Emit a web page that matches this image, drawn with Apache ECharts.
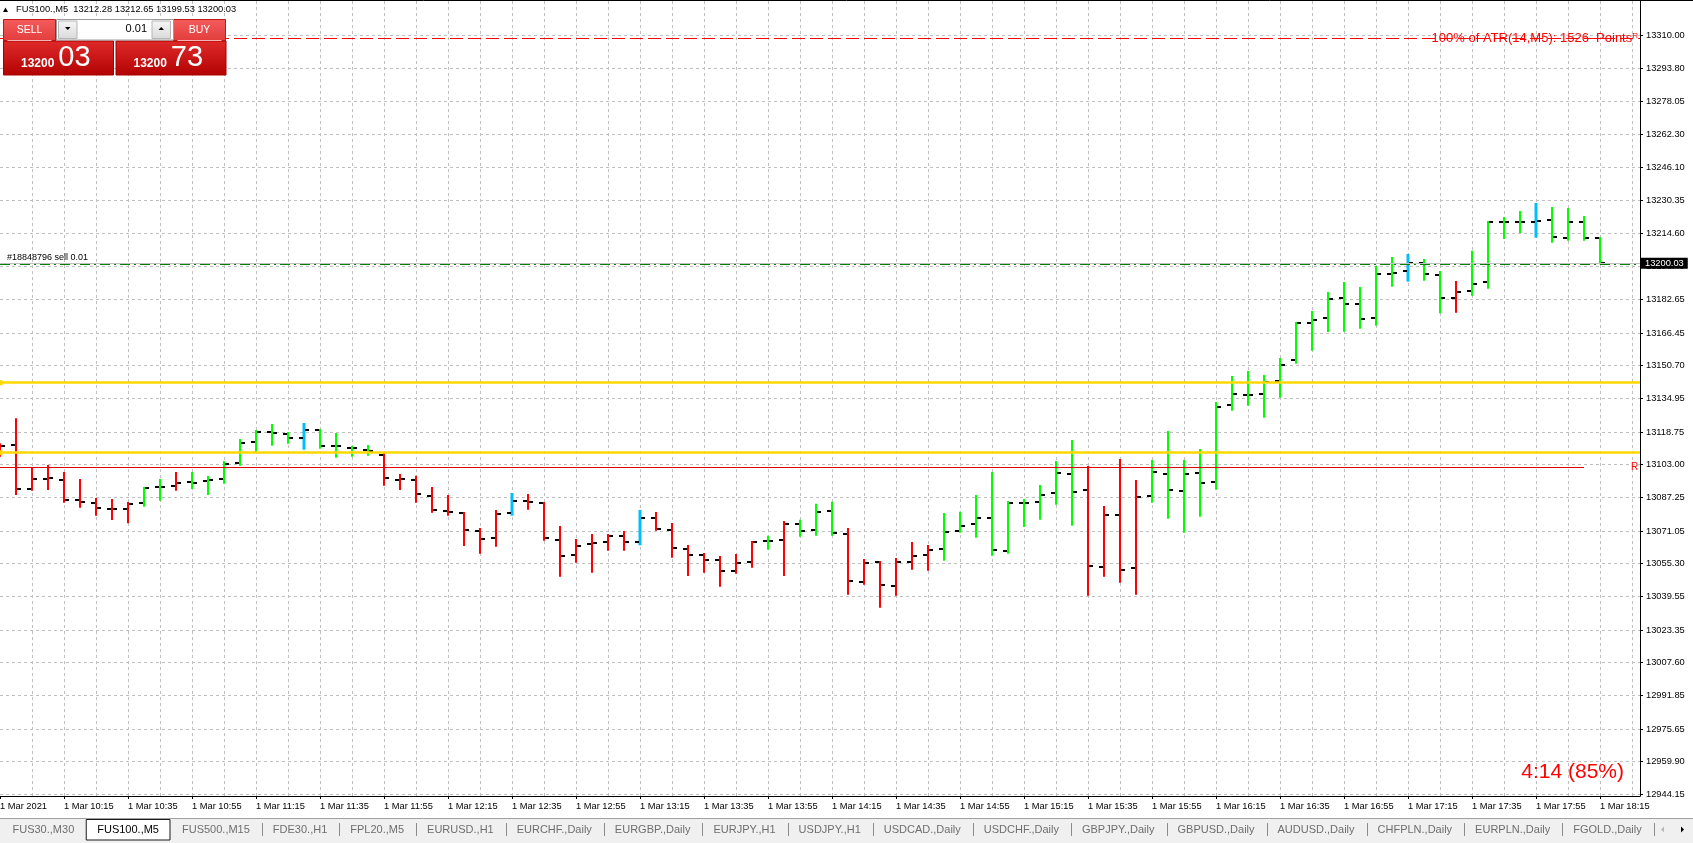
<!DOCTYPE html>
<html><head><meta charset="utf-8">
<script src="https://cdn.jsdelivr.net/npm/echarts@6/dist/echarts.min.js"></script>
<style>html,body{margin:0;padding:0;background:#fff;overflow:hidden}#c{width:1693px;height:843px}</style>
</head><body><div id="c"></div>
<script>
const symbolName = 'FUS100.,M5';
const times = ['09:55','10:00','10:05','10:10','10:15','10:20','10:25','10:30','10:35','10:40','10:45','10:50','10:55',
'11:00','11:05','11:10','11:15','11:20','11:25','11:30','11:35','11:40','11:45','11:50','11:55',
'12:00','12:05','12:10','12:15','12:20','12:25','12:30','12:35','12:40','12:45','12:50','12:55',
'13:00','13:05','13:10','13:15','13:20','13:25','13:30','13:35','13:40','13:45','13:50','13:55',
'14:00','14:05','14:10','14:15','14:20','14:25','14:30','14:35','14:40','14:45','14:50','14:55',
'15:00','15:05','15:10','15:15','15:20','15:25','15:30','15:35','15:40','15:45','15:50','15:55',
'16:00','16:05','16:10','16:15','16:20','16:25','16:30','16:35','16:40','16:45','16:50','16:55',
'17:00','17:05','17:10','17:15','17:20','17:25','17:30','17:35','17:40','17:45','17:50','17:55',
'18:00','18:05','18:10','18:15'];
const openP = [13112.94,13112.60,13091.26,13096.08,13095.59,13086.10,13084.66,13081.77,13081.77,13084.66,
13092.22,13092.70,13094.78,13095.26,13096.22,13103.93,13114.05,13118.87,13117.90,13115.97,
13119.83,13112.12,13111.16,13110.19,13107.78,13095.74,13095.74,13088.03,13080.80,13079.84,
13071.17,13067.79,13079.84,13085.62,13084.66,13066.83,13059.60,13064.90,13065.87,13068.76,
13065.87,13077.43,13071.65,13062.49,13059.60,13057.19,13051.89,13056.23,13066.35,13066.83,
13074.54,13071.50,13080.80,13069.58,13046.45,13056.09,13044.52,13056.09,13059.46,13062.35,
13071.02,13074.39,13077.29,13061.39,13084.51,13084.99,13089.33,13098.49,13090.78,13053.68,
13078.73,13053.20,13087.89,13098.49,13090.29,13098.97,13094.78,13131.87,13136.69,13137.17,
13143.29,13153.56,13171.38,13173.79,13183.43,13180.54,13173.79,13194.99,13196.44,13200.29,
13194.37,13183.43,13186.66,13190.99,13220.05,13220.05,13220.05,13220.87,13212.34,13220.05,13212.28];
const highP = [13113.28,13125.32,13101.52,13102.82,13099.45,13096.08,13086.92,13086.44,13084.99,13092.22,
13096.08,13099.45,13099.45,13097.52,13104.75,13115.35,13119.69,13122.58,13118.72,13123.06,
13120.17,13118.24,13112.12,13112.46,13108.75,13098.49,13097.67,13092.22,13088.37,13080.18,
13072.47,13081.14,13089.33,13088.85,13084.99,13073.43,13067.17,13069.58,13069.58,13071.02,
13081.14,13080.18,13074.88,13064.28,13060.42,13058.98,13059.94,13066.20,13068.76,13075.84,
13076.47,13084.18,13085.14,13072.47,13057.53,13056.57,13058.01,13065.72,13064.28,13079.69,
13080.32,13088.37,13099.45,13085.48,13086.44,13093.19,13104.75,13114.87,13102.34,13083.07,
13105.71,13095.59,13105.23,13119.20,13105.23,13110.53,13133.18,13145.70,13148.11,13146.18,
13154.38,13171.72,13177.02,13186.17,13190.99,13188.58,13198.70,13203.04,13204.48,13202.07,
13196.29,13191.47,13206.07,13220.38,13222.31,13225.20,13229.06,13227.13,13226.65,13222.79,13212.65];
const lowP = [13106.82,13088.37,13090.44,13090.78,13084.66,13082.25,13078.40,13076.32,13074.73,13082.73,
13085.62,13090.44,13091.26,13088.37,13093.81,13102.48,13108.75,13112.12,13113.08,13110.19,
13110.68,13106.34,13106.82,13107.30,13092.85,13090.78,13084.66,13079.84,13078.40,13063.80,
13060.09,13063.46,13078.40,13081.28,13066.35,13049.00,13055.75,13050.93,13061.53,13061.53,
13064.13,13071.17,13058.16,13049.34,13050.93,13044.19,13050.45,13053.34,13062.01,13049.34,
13068.28,13068.76,13068.76,13040.33,13045.15,13034.07,13039.85,13052.38,13051.89,13056.71,
13070.20,13067.79,13059.12,13060.09,13072.95,13076.47,13083.69,13073.58,13039.85,13049.00,
13046.11,13040.33,13084.66,13076.95,13070.20,13077.91,13090.92,13128.98,13131.39,13125.61,
13135.25,13151.63,13157.89,13166.90,13167.05,13168.49,13169.94,13188.73,13191.14,13191.62,
13175.91,13176.20,13184.39,13187.76,13211.71,13214.60,13212.34,13209.93,13210.89,13210.89,13199.53];
const closeP = [13112.12,13091.26,13096.08,13096.70,13086.10,13084.99,13082.25,13081.77,13084.18,13091.88,
13092.37,13094.29,13094.29,13095.74,13103.45,13113.57,13118.87,13118.38,13115.97,13119.83,
13112.12,13112.12,13111.16,13109.42,13096.70,13096.08,13088.99,13081.28,13080.32,13071.65,
13067.31,13079.36,13085.62,13085.14,13067.79,13059.12,13063.94,13065.39,13068.76,13065.87,
13077.43,13072.13,13062.97,13059.46,13057.19,13051.89,13055.75,13065.87,13066.35,13074.54,
13071.02,13080.32,13070.06,13046.93,13055.60,13045.00,13056.09,13058.98,13061.87,13070.54,
13073.43,13077.29,13061.87,13084.51,13084.51,13088.37,13098.97,13089.81,13054.16,13078.73,
13052.23,13087.40,13099.45,13090.78,13098.49,13094.15,13130.91,13137.03,13136.69,13142.81,
13151.00,13171.38,13172.83,13182.95,13180.54,13173.31,13194.99,13195.47,13199.91,13194.99,
13183.43,13186.32,13190.03,13220.05,13220.05,13220.05,13220.53,13212.82,13219.90,13212.34,13200.03];
// trend state of each bar: u = up, d = down, n = neutral
const barState = ['d','d','d','d','d','d','d','d','d','u','u','d','u','u','u','u','u','u','u','n',
'u','u','u','u','d','d','d','d','d','d','d','d','n','d','d','d','d','d','d','d',
'n','d','d','d','d','d','d','d','u','d','u','u','u','d','d','d','d','d','d','u',
'u','u','u','u','u','u','u','u','d','d','d','d','u','u','u','u','u','u','u','u',
'u','u','u','u','u','u','u','u','n','u','u','d','u','u','u','u','n','u','u','u','u'];
const xTickLabels = ['1 Mar 2021','1 Mar 10:15','1 Mar 10:35','1 Mar 10:55','1 Mar 11:15','1 Mar 11:35','1 Mar 11:55',
'1 Mar 12:15','1 Mar 12:35','1 Mar 12:55','1 Mar 13:15','1 Mar 13:35','1 Mar 13:55','1 Mar 14:15','1 Mar 14:35',
'1 Mar 14:55','1 Mar 15:15','1 Mar 15:35','1 Mar 15:55','1 Mar 16:15','1 Mar 16:35','1 Mar 16:55','1 Mar 17:15',
'1 Mar 17:35','1 Mar 17:55','1 Mar 18:15'];
const yTickLabels = ['13310.00','13293.80','13278.05','13262.30','13246.10','13230.35','13214.60','13198.40',
'13182.65','13166.45','13150.70','13134.95','13118.75','13103.00','13087.25','13071.05','13055.30','13039.55',
'13023.35','13007.60','12991.85','12975.65','12959.90','12944.15'];
const bidPrice = 13200.03;
const askPrice = 13200.73;
const lotSize = '0.01';
const orderPrice = 13199.55;
const orderText = '#18848796 sell 0.01';
const atrLevel = 13308.41;
const atrText = '100% of ATR(14,M5): 1526  Points';
const yellowLevels = [13142.48, 13108.75];
const redLevel = 13101.71;
const redLineEndBar = 99;
const timerText = '4:14 (85%)';
const tabs = ['FUS30.,M30','FUS100.,M5','FUS500.,M15','FDE30.,H1','FPL20.,M5','EURUSD.,H1','EURCHF.,Daily',
'EURGBP.,Daily','EURJPY.,H1','USDJPY.,H1','USDCAD.,Daily','USDCHF.,Daily','GBPJPY.,Daily','GBPUSD.,Daily',
'AUDUSD.,Daily','CHFPLN.,Daily','EURPLN.,Daily','FGOLD.,Daily'];
const activeTab = 1;

// ---------- rendering ----------
const FONT = '"Liberation Sans", Arial, sans-serif';
const colorOf = {u:'#00ff00', d:'#ff0000', n:'#00bfff'};
const xTickPos = xTickLabels.map((l, k) => k === 0 ? 0 : times.indexOf(l.slice(6)));
const yTickVals = yTickLabels.map(Number);
const last = times.length - 1;
const barData = times.map((t, i) => [i, openP[i], highP[i], lowP[i], closeP[i]]);

const chart = echarts.init(document.getElementById('c'), null, {width:1693, height:843});

const gridDash = {color:'#c0c0c0', type:[3,3], width:1};

const graphics = [];
graphics.push({type:'line', shape:{x1:0,y1:0.5,x2:1693,y2:0.5}, style:{stroke:'#000', lineWidth:1}, z:100});
graphics.push({type:'polygon', shape:{points:[[3,12],[8,12],[5.5,7.5]]}, style:{fill:'#000'}, z:100});
graphics.push({type:'text', x:16, y:9.5, style:{text: symbolName + '  ' + [openP[last],highP[last],lowP[last],closeP[last]].map(v=>v.toFixed(2)).join(' '),
  font:'9.3px ' + FONT, fill:'#000', verticalAlign:'middle'}, z:100});
const btnGrad = {type:'linear', x:0,y:0,x2:0,y2:1, colorStops:[{offset:0,color:'#f45c5c'},{offset:1,color:'#e23c3c'}]};
const boxGrad = {type:'linear', x:0,y:0,x2:0,y2:1, colorStops:[{offset:0,color:'#e02a2a'},{offset:1,color:'#b20202'}]};
const greyGrad = {type:'linear', x:0,y:0,x2:0,y2:1, colorStops:[{offset:0,color:'#f6f6f6'},{offset:1,color:'#dadada'}]};
function priceParts(p){ return p.toFixed(2).split('.'); }
[[3.5,'SELL',bidPrice],[173.5,'BUY',askPrice]].forEach(([bx,label,price], k) => {
  graphics.push({type:'rect', shape:{x:bx, y:19.5, width:52, height:21.5}, style:{fill:btnGrad, stroke:'#c01818', lineWidth:1}, z:100});
  graphics.push({type:'text', x:bx+26, y:30.3, style:{text:label, font:'10.5px ' + FONT, fill:'#fff', align:'center', verticalAlign:'middle'}, z:101});
  graphics.push({type:'line', shape:{x1:bx+4,y1:40.5,x2:bx+48,y2:40.5}, style:{stroke:'#f7b4b4', lineWidth:1}, z:101});
  const px = k === 0 ? 3.5 : 116;
  graphics.push({type:'rect', shape:{x:px, y:41, width:110, height:34}, style:{fill:boxGrad, stroke:'#a80000', lineWidth:1}, z:100});
  const parts = priceParts(price);
  graphics.push({type:'text', x:px + 17.5, y:64, style:{text:parts[0], font:'bold 12px ' + FONT, fill:'#fff', verticalAlign:'middle'}, z:101});
  graphics.push({type:'text', x:px + 54.8, y:57.5, style:{text:parts[1], font:'29px ' + FONT, fill:'#fff', verticalAlign:'middle'}, z:101});
});
graphics.push({type:'rect', shape:{x:56.5, y:19.5, width:117, height:20.5}, style:{fill:'#fff', stroke:'#9a9a9a', lineWidth:1}, z:100});
graphics.push({type:'rect', shape:{x:58.5, y:21, width:18.5, height:17.5}, style:{fill:greyGrad, stroke:'#b4b4b4', lineWidth:1}, z:101});
graphics.push({type:'rect', shape:{x:152, y:21, width:18.5, height:17.5}, style:{fill:greyGrad, stroke:'#b4b4b4', lineWidth:1}, z:101});
graphics.push({type:'polygon', shape:{points:[[65,27],[70.5,27],[67.75,30]]}, style:{fill:'#000'}, z:102});
graphics.push({type:'polygon', shape:{points:[[158.5,30],[164,30],[161.25,27]]}, style:{fill:'#000'}, z:102});
graphics.push({type:'text', x:147, y:29, style:{text:lotSize, font:'11px ' + FONT, fill:'#000', align:'right', verticalAlign:'middle'}, z:101});
graphics.push({type:'text', x:1624, y:772, style:{text:timerText, font:'21px ' + FONT, fill:'#ff0000', align:'right', verticalAlign:'middle'}, z:100});
graphics.push({type:'rect', shape:{x:0, y:818, width:1693, height:25}, style:{fill:'#f0f0f0'}, z:90});
graphics.push({type:'line', shape:{x1:0,y1:818.5,x2:1693,y2:818.5}, style:{stroke:'#a0a0a0', lineWidth:1}, z:91});
const mctx = document.createElement('canvas').getContext('2d');
mctx.font = '11px "Liberation Sans"';
let tx = 12.5;
tabs.forEach((name, i) => {
  const w = mctx.measureText(name).width;
  if (i === activeTab) {
    graphics.push({type:'rect', shape:{x:tx-11, y:819.5, width:w+22, height:20.5}, style:{fill:'#fff', stroke:'#1a1a1a', lineWidth:1}, z:92});
  }
  graphics.push({type:'text', x:tx, y:830, style:{text:name, font:'11px ' + FONT, fill: i === activeTab ? '#000' : '#6e6e6e', verticalAlign:'middle'}, z:93});
  const sepX = tx + w + 12;
  if (i !== activeTab && i + 1 !== activeTab) {
    graphics.push({type:'line', shape:{x1:Math.round(sepX)+0.5, y1:823, x2:Math.round(sepX)+0.5, y2:836}, style:{stroke:'#8c8c8c', lineWidth:1}, z:93});
  }
  tx = tx + w + 23;
});
graphics.push({type:'polygon', shape:{points:[[1664,826.5],[1664,832.5],[1661,829.5]]}, style:{fill:'#b8b8b8'}, z:93});
graphics.push({type:'polygon', shape:{points:[[1681,826.5],[1681,832.5],[1684,829.5]]}, style:{fill:'#000'}, z:93});

const markData = [
  {yAxis: atrLevel, lineStyle:{color:'#ff0000', type:[13,5], width:1},
   label:{show:true, position:'insideEndTop', distance:[2,0], verticalAlign:'middle',
     formatter:'{a|' + atrText + '}{b|R}',
     rich:{a:{fontSize:13, color:'#ff0000', fontFamily:FONT}, b:{fontSize:8, color:'#ff0000', fontFamily:FONT, verticalAlign:'top'}}}},
  ...yellowLevels.map(v => ({yAxis: v, lineStyle:{color:'#ffd700', type:'solid', width:2.5}, symbol:['emptyRect','emptyRect'], symbolSize:5})),
  [{coord:[0, redLevel], lineStyle:{color:'#e00000', type:'solid', width:1},
    label:{show:true, position:'end', distance:47, formatter:'R', color:'#ff0000', fontSize:10, fontFamily:FONT}},
   {coord:[redLineEndBar, redLevel]}],
  {yAxis: bidPrice, lineStyle:{color:'#c0c0c0', type:'solid', width:1},
   label:{show:true, position:'end', distance:1, formatter: bidPrice.toFixed(2), color:'#fff', backgroundColor:'#000',
     padding:[1,4,1,4], fontSize:9.3, fontFamily:FONT}},
  {yAxis: orderPrice, lineStyle:{color:'#008000', type:[10,4,2,4], width:1},
   label:{show:true, position:'insideStartTop', distance:[7,2], formatter: orderText, color:'#000', fontSize:9, fontFamily:FONT}}
];

chart.setOption({
  animation:false,
  backgroundColor:'#fff',
  textStyle:{fontFamily:FONT},
  grid:{left:0, right:53, top:1, bottom:47, containLabel:false, outerBoundsMode:'none'},
  xAxis:[
    {type:'value', min:0, max:102.5, position:'bottom',
     axisLine:{show:true, onZero:false, lineStyle:{color:'#000', width:1}},
     axisTick:{show:true, length:3, customValues:xTickPos, lineStyle:{color:'#000'}},
     axisLabel:{show:true, customValues:xTickPos, align:'left', margin:6, fontSize:9.3, color:'#000', fontFamily:FONT,
       formatter:(v) => { const k = xTickPos.indexOf(Math.round(v)); return k >= 0 ? xTickLabels[k] : ''; }},
     splitLine:{show:false}},
    {type:'value', min:0, max:102.5, interval:2, position:'bottom',
     axisLine:{show:false}, axisTick:{show:false}, axisLabel:{show:false},
     splitLine:{show:true, showMinLine:false, showMaxLine:false, lineStyle:gridDash}}
  ],
  yAxis:[
    {type:'value', position:'right', min:12943.34, max:13326.38,
     axisLine:{show:true, onZero:false, lineStyle:{color:'#000', width:1}},
     axisTick:{show:true, length:3, customValues:yTickVals, lineStyle:{color:'#000'}},
     axisLabel:{show:true, customValues:yTickVals, margin:6, fontSize:9.3, color:'#000', fontFamily:FONT,
       formatter:(v) => v.toFixed(2)},
     splitLine:{show:true, lineStyle:gridDash}}
  ],
  series:[{
    type:'custom', xAxisIndex:0, yAxisIndex:0, clip:false,
    encode:{x:0, y:[1,2,3,4]},
    data: barData,
    renderItem:(params, api) => {
      const i = api.value(0);
      const hi = api.coord([i, api.value(2)]);
      const lo = api.coord([i, api.value(3)]);
      const op = api.coord([i, api.value(1)]);
      const cl = api.coord([i, api.value(4)]);
      const st = barState[params.dataIndex];
      const w = st === 'n' ? 3 : 2;
      const x = Math.round(hi[0]);
      return {type:'group', children:[
        {type:'rect', shape:{x:x - w/2, y:hi[1], width:w, height:Math.max(1, lo[1]-hi[1])}, style:{fill:colorOf[st]}},
        {type:'rect', shape:{x:x-5, y:Math.round(op[1])-1, width:4, height:2}, style:{fill:'#000'}},
        {type:'rect', shape:{x:x+1, y:Math.round(cl[1])-1, width:4, height:2}, style:{fill:'#000'}}
      ]};
    },
    markLine:{silent:true, animation:false, symbol:'none', label:{show:false}, emphasis:{disabled:true}, data:markData}
  }],
  graphic: graphics
});
</script>
</body></html>
